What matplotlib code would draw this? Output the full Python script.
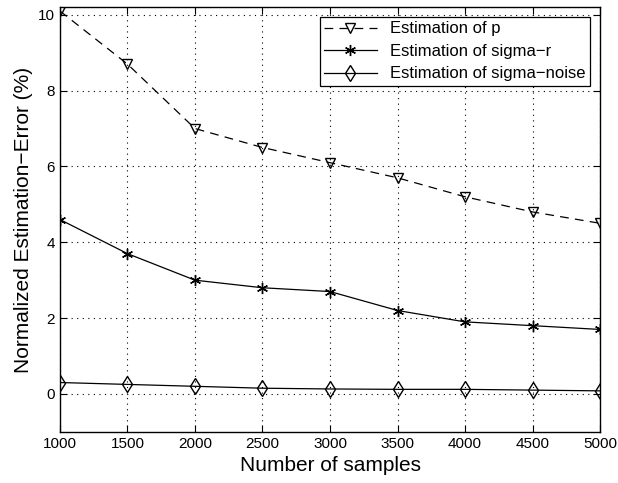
import numpy as np
import matplotlib
matplotlib.use("Agg")
import matplotlib.pyplot as plt

plt.rcParams['font.family'] = ['Liberation Sans', 'DejaVu Sans']

samples = [1000, 1500, 2000, 2500, 3000, 3500, 4000, 4500, 5000]
err_p = [10.1, 8.7, 7.0, 6.5, 6.1, 5.7, 5.2, 4.8, 4.5]
err_sigma_r = [4.6, 3.7, 3.0, 2.8, 2.7, 2.2, 1.9, 1.8, 1.7]
err_sigma_noise = [0.3, 0.25, 0.2, 0.15, 0.13, 0.12, 0.12, 0.1, 0.08]

fig = plt.figure(figsize=(6.18, 4.83), dpi=100)
ax = fig.add_axes([0.097, 0.106, 0.874, 0.879])

ax.plot(samples, err_p, 'k--', marker='v', markersize=7, markerfacecolor='none',
        linewidth=0.9, dashes=(7, 5), label='Estimation of p')
ax.plot(samples, err_sigma_r, 'k-', marker=(6, 2, 0), markersize=8,
        markeredgewidth=1.0, linewidth=0.9, label='Estimation of sigma\u2212r')
ax.plot(samples, err_sigma_noise, 'k-', marker='d', markersize=8, markerfacecolor='none',
        linewidth=0.9, label='Estimation of sigma\u2212noise')

ax.set_xlim(1000, 5000)
ax.set_ylim(-1, 10.2)
ax.set_xticks(samples)
ax.set_yticks([0, 2, 4, 6, 8, 10])
ax.grid(True, color='k', linestyle=(0, (1, 4)), linewidth=0.8)
ax.tick_params(direction='in', top=True, right=True, labelsize=11, length=5)
for s in ax.spines.values():
    s.set_linewidth(1.0)

ax.set_xlabel('Number of samples', fontsize=15)
ax.set_ylabel('Normalized Estimation\u2212Error (%)', fontsize=15)

leg = ax.legend(loc='upper right', fontsize=12, fancybox=False, framealpha=1,
                edgecolor='k', borderpad=0.25, handlelength=3.2, labelspacing=0.45,
                borderaxespad=0.6)
leg.get_frame().set_linewidth(0.9)

fig.savefig('out.png', dpi=100)
